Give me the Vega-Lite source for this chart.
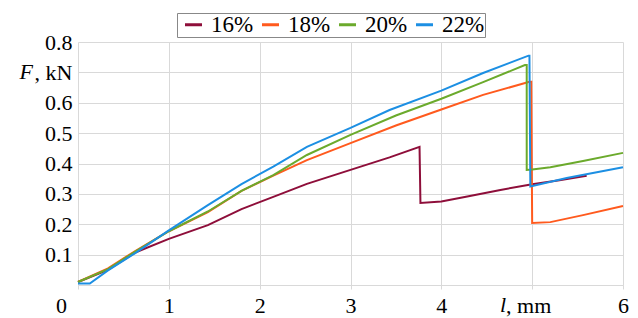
{
  "$schema": "https://vega.github.io/schema/vega-lite/v6.json",
  "width": 545,
  "height": 243,
  "autosize": {"type": "none"},
  "padding": {"left": 78, "top": 42, "right": 15, "bottom": 33},
  "background": "white",
  "config": {"view": {"stroke": null}, "font": "Liberation Serif"},
  "encoding": {
    "x": {
      "field": "l", "type": "quantitative",
      "scale": {"domain": [0, 6], "nice": false, "zero": false},
      "axis": {
        "title": null,
        "values": [0, 1, 2, 3, 4, 5, 6],
        "format": "d",
        "grid": true, "gridColor": "#d9d9d9", "gridWidth": 1,
        "domainColor": "#d9d9d9", "tickColor": "#d9d9d9", "tickSize": 4,
        "labelFont": "Liberation Serif", "labelFontSize": 22, "labelColor": "black",
        "labelPadding": 6, "labelFlush": false, "labelOverlap": false, "labelBound": false,
        "labelExpr": "datum.value == 5 ? ', mm' : datum.label",
        "labelOffset": {"condition": [{"test": "datum.value == 0", "value": -17}, {"test": "datum.value == 5", "value": -4}], "value": 0}
      }
    },
    "y": {
      "field": "F", "type": "quantitative",
      "scale": {"domain": [0, 0.8], "nice": false, "zero": false},
      "axis": {
        "title": null,
        "values": [0, 0.1, 0.2, 0.3, 0.4, 0.5, 0.6, 0.7, 0.8],
        "format": ".1f",
        "grid": true, "gridColor": "#d9d9d9", "gridWidth": 1,
        "domain": false, "ticks": false,
        "labelFont": "Liberation Serif", "labelFontSize": 22, "labelColor": "black",
        "labelPadding": 6, "labelOverlap": false, "labelBound": false, "labelFlush": false,
        "labelExpr": "datum.value == 0 ? '' : (datum.value == 0.7 ? ', kN' : datum.label)"
      }
    }
  },
  "layer": [
    {
      "data": {"values": [
        {"s": "16%", "i": 1, "l": 0, "F": 0.01},
        {"s": "16%", "i": 2, "l": 0.33, "F": 0.05},
        {"s": "16%", "i": 3, "l": 0.63, "F": 0.107},
        {"s": "16%", "i": 4, "l": 1.0, "F": 0.152},
        {"s": "16%", "i": 5, "l": 1.43, "F": 0.197},
        {"s": "16%", "i": 6, "l": 1.8, "F": 0.25},
        {"s": "16%", "i": 7, "l": 2.15, "F": 0.29},
        {"s": "16%", "i": 8, "l": 2.52, "F": 0.333},
        {"s": "16%", "i": 9, "l": 3.0, "F": 0.379},
        {"s": "16%", "i": 10, "l": 3.43, "F": 0.42},
        {"s": "16%", "i": 11, "l": 3.76, "F": 0.455},
        {"s": "16%", "i": 12, "l": 3.77, "F": 0.27},
        {"s": "16%", "i": 13, "l": 4.0, "F": 0.275},
        {"s": "16%", "i": 14, "l": 4.3, "F": 0.292},
        {"s": "16%", "i": 15, "l": 4.65, "F": 0.313},
        {"s": "16%", "i": 16, "l": 5.0, "F": 0.332},
        {"s": "16%", "i": 17, "l": 5.3, "F": 0.345},
        {"s": "16%", "i": 18, "l": 5.6, "F": 0.36},

        {"s": "18%", "i": 1, "l": 0, "F": 0.01},
        {"s": "18%", "i": 2, "l": 0.33, "F": 0.055},
        {"s": "18%", "i": 3, "l": 0.63, "F": 0.112},
        {"s": "18%", "i": 4, "l": 1.0, "F": 0.177},
        {"s": "18%", "i": 5, "l": 1.43, "F": 0.24},
        {"s": "18%", "i": 6, "l": 1.8, "F": 0.31},
        {"s": "18%", "i": 7, "l": 2.15, "F": 0.36},
        {"s": "18%", "i": 8, "l": 2.52, "F": 0.411},
        {"s": "18%", "i": 9, "l": 3.0, "F": 0.467},
        {"s": "18%", "i": 10, "l": 3.5, "F": 0.525},
        {"s": "18%", "i": 11, "l": 4.0, "F": 0.578},
        {"s": "18%", "i": 12, "l": 4.46, "F": 0.626},
        {"s": "18%", "i": 13, "l": 4.97, "F": 0.669},
        {"s": "18%", "i": 14, "l": 4.99, "F": 0.669},
        {"s": "18%", "i": 15, "l": 5.0, "F": 0.204},
        {"s": "18%", "i": 16, "l": 5.2, "F": 0.207},
        {"s": "18%", "i": 17, "l": 5.56, "F": 0.23},
        {"s": "18%", "i": 18, "l": 6.0, "F": 0.26},

        {"s": "20%", "i": 1, "l": 0, "F": 0.01},
        {"s": "20%", "i": 2, "l": 0.33, "F": 0.052},
        {"s": "20%", "i": 3, "l": 0.63, "F": 0.11},
        {"s": "20%", "i": 4, "l": 1.0, "F": 0.177},
        {"s": "20%", "i": 5, "l": 1.43, "F": 0.242},
        {"s": "20%", "i": 6, "l": 1.8, "F": 0.31},
        {"s": "20%", "i": 7, "l": 2.15, "F": 0.362},
        {"s": "20%", "i": 8, "l": 2.52, "F": 0.428},
        {"s": "20%", "i": 9, "l": 3.0, "F": 0.494},
        {"s": "20%", "i": 10, "l": 3.5, "F": 0.558},
        {"s": "20%", "i": 11, "l": 4.0, "F": 0.613},
        {"s": "20%", "i": 12, "l": 4.46, "F": 0.668},
        {"s": "20%", "i": 13, "l": 4.92, "F": 0.724},
        {"s": "20%", "i": 14, "l": 4.94, "F": 0.724},
        {"s": "20%", "i": 15, "l": 4.94, "F": 0.379},
        {"s": "20%", "i": 16, "l": 5.0, "F": 0.38},
        {"s": "20%", "i": 17, "l": 5.2, "F": 0.388},
        {"s": "20%", "i": 18, "l": 5.56, "F": 0.408},
        {"s": "20%", "i": 19, "l": 6.0, "F": 0.435},

        {"s": "22%", "i": 1, "l": 0, "F": 0.005},
        {"s": "22%", "i": 2, "l": 0.13, "F": 0.005},
        {"s": "22%", "i": 3, "l": 0.33, "F": 0.048},
        {"s": "22%", "i": 4, "l": 0.63, "F": 0.105},
        {"s": "22%", "i": 5, "l": 1.0, "F": 0.18},
        {"s": "22%", "i": 6, "l": 1.43, "F": 0.263},
        {"s": "22%", "i": 7, "l": 1.8, "F": 0.332},
        {"s": "22%", "i": 8, "l": 2.15, "F": 0.39},
        {"s": "22%", "i": 9, "l": 2.52, "F": 0.455},
        {"s": "22%", "i": 10, "l": 3.0, "F": 0.517},
        {"s": "22%", "i": 11, "l": 3.43, "F": 0.576},
        {"s": "22%", "i": 12, "l": 4.0, "F": 0.64},
        {"s": "22%", "i": 13, "l": 4.46, "F": 0.698},
        {"s": "22%", "i": 14, "l": 4.96, "F": 0.755},
        {"s": "22%", "i": 15, "l": 4.97, "F": 0.755},
        {"s": "22%", "i": 16, "l": 4.98, "F": 0.324},
        {"s": "22%", "i": 17, "l": 5.38, "F": 0.352},
        {"s": "22%", "i": 18, "l": 6.0, "F": 0.388}
      ]},
      "mark": {"type": "line", "strokeWidth": 2, "clip": false},
      "encoding": {
        "color": {
          "field": "s", "type": "nominal",
          "scale": {"domain": ["16%", "18%", "20%", "22%"], "range": ["#8E0E3A", "#FF5A1E", "#6BAA2C", "#1C8FE3"]},
          "legend": {
            "title": null, "orient": "none", "legendX": 99, "legendY": -29,
            "direction": "horizontal",
            "symbolType": "stroke", "symbolStrokeWidth": 3, "symbolSize": 289,
            "symbolOffset": 5,
            "labelFont": "Liberation Serif", "labelFontSize": 23, "labelColor": "black",
            "labelOffset": 6, "columnPadding": 0,
            "strokeColor": "#888888", "fillColor": "white", "padding": 0
          }
        },
        "order": {"field": "i", "type": "quantitative"}
      }
    },
    {
      "data": {"values": [{"t": "F", "l": 0, "F": 0.7}]},
      "mark": {"type": "text", "align": "right", "baseline": "middle", "dx": -45, "font": "Liberation Serif", "fontStyle": "italic", "fontSize": 22, "color": "black"},
      "encoding": {"text": {"field": "t"}}
    },
    {
      "data": {"values": [{"t": "l", "l": 5, "F": 0}]},
      "mark": {"type": "text", "align": "right", "baseline": "top", "dx": -26, "dy": 10, "font": "Liberation Serif", "fontStyle": "italic", "fontSize": 22, "color": "black"},
      "encoding": {"text": {"field": "t"}}
    }
  ]
}
